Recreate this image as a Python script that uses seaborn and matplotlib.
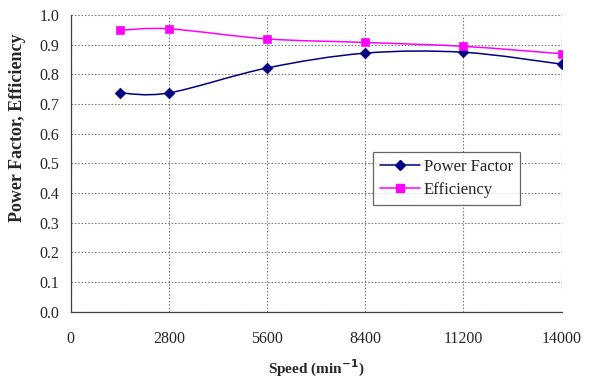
import matplotlib
matplotlib.use("Agg")
import matplotlib.pyplot as plt
from matplotlib.path import Path
from matplotlib.patches import PathPatch
from matplotlib.lines import Line2D
import numpy as np
import seaborn as sns

speed = [1400, 2800, 5600, 8400, 11200, 14000]
power_factor = [0.737, 0.737, 0.821, 0.871, 0.874, 0.834]
efficiency = [0.948, 0.953, 0.919, 0.907, 0.894, 0.869]
x_ticks = [0, 2800, 5600, 8400, 11200, 14000]
y_ticks = [0.0, 0.1, 0.2, 0.3, 0.4, 0.5, 0.6, 0.7, 0.8, 0.9, 1.0]


def smooth_path(xs, ys):
    # excel-like smoothed line: cubic bezier through each point
    pts = np.column_stack([xs, ys]).astype(float)
    ext = np.vstack([pts[0], pts, pts[-1]])
    verts = [pts[0]]
    codes = [Path.MOVETO]
    for i in range(len(pts) - 1):
        p0, p1, p2, p3 = ext[i], ext[i + 1], ext[i + 2], ext[i + 3]
        verts += [p1 + (p2 - p0) / 6, p2 - (p3 - p1) / 6, p2]
        codes += [Path.CURVE4] * 3
    return Path(verts, codes)


sns.set_style("white")
plt.rcParams["font.family"] = ["Liberation Serif", "DejaVu Serif"]

fig = plt.figure(figsize=(5.91, 3.81), dpi=100)
ax = fig.add_axes([0.1196, 0.182, 0.8305, 0.779])

ax.add_patch(PathPatch(smooth_path(speed, power_factor), fc="none", ec="#000080", lw=1.1))
ax.add_patch(PathPatch(smooth_path(speed, efficiency), fc="none", ec="#FF00FF", lw=1.1))
sns.scatterplot(x=speed, y=power_factor, marker="D", s=30, color="#000080",
                edgecolor="#000080", ax=ax, zorder=3)
sns.scatterplot(x=speed, y=efficiency, marker="s", s=36, color="#FF00FF",
                edgecolor="#FF00FF", ax=ax, zorder=3)

ax.set_xlim(0, 14000)
ax.set_ylim(0, 1.0)
ax.set_xticks(x_ticks)
ax.set_yticks(y_ticks)
ax.set_xticklabels([str(t) for t in x_ticks])
ax.set_yticklabels([f"{t:.1f}" for t in y_ticks])
ax.grid(True, color="#808080", linestyle=(0, (1.5, 1.5)), lw=0.8)
for s in ["top", "right"]:
    ax.spines[s].set_visible(False)
for s in ["left", "bottom"]:
    ax.spines[s].set_color("#404040")
    ax.spines[s].set_linewidth(0.9)
ax.tick_params(axis="both", direction="out", length=3, width=0.8, color="#404040",
               labelsize=11.5, pad=5)
ax.tick_params(axis="x", pad=11)

ax.set_xlabel("Speed (min$^{\\mathbf{-1}}$)", fontsize=11, fontweight="bold", labelpad=8)
fig.text(0.030, 0.665, "Power Factor, Efficiency", rotation=90, fontsize=13,
         fontweight="bold", ha="center", va="center")

handles = [
    Line2D([], [], color="#000080", marker="D", markersize=5, lw=1.1),
    Line2D([], [], color="#FF00FF", marker="s", markersize=6, lw=1.1),
]
leg = ax.legend(handles, ["Power Factor", "Efficiency"], loc="upper left",
                bbox_to_anchor=(0.631, 0.601), bbox_transform=fig.transFigure,
                borderaxespad=0, fontsize=12, frameon=True, fancybox=False,
                handlelength=2.4, borderpad=0.4, labelspacing=0.45, handletextpad=0.25)
leg.get_frame().set_edgecolor("#404040")
leg.get_frame().set_linewidth(0.9)

fig.savefig("out.png", dpi=100)
